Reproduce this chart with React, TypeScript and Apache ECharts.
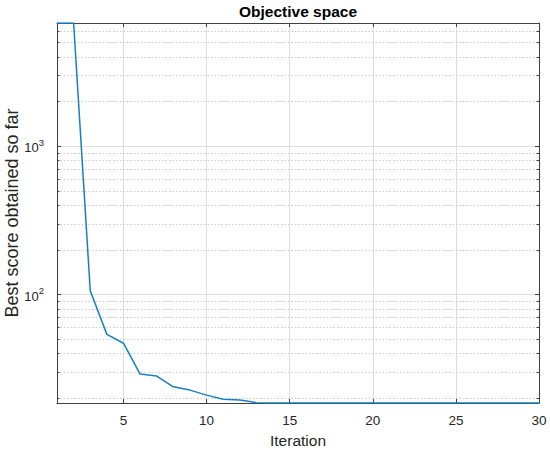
import React, { useEffect, useRef } from "react";
import * as echarts from "echarts";

const iterations = [1, 2, 3, 4, 5, 6, 7, 8, 9, 10, 11, 12, 13, 14, 15, 16, 17, 18, 19, 20, 21, 22, 23, 24, 25, 26, 27, 28, 29, 30];
const bestScores = [6750, 6750, 105.8, 53.7, 46.8, 29.0, 28.1, 23.8, 22.6, 20.9, 19.6, 19.4, 18.6, 18.5, 18.5, 18.5, 18.5, 18.5, 18.5, 18.5, 18.5, 18.5, 18.5, 18.5, 18.5, 18.5, 18.5, 18.5, 18.5, 18.5];
const yMinorGrid = [20, 30, 40, 50, 60, 70, 80, 90, 200, 300, 400, 500, 600, 700, 800, 900, 2000, 3000, 4000, 5000, 6000];
const xTickLabels = [5, 10, 15, 20, 25, 30];
const xRange = [1, 30];
const yRange = [18.5, 6750];

const TEXT = "#262626";
const AXIS = "#404040";
const FONT = "'Liberation Sans', Arial, Helvetica, sans-serif";

const xLabelFormatter = (v: number) =>
  xTickLabels.includes(Math.round(v)) && Math.abs(v - Math.round(v)) < 1e-6 ? String(Math.round(v)) : "";

export default function App() {
  const ref = useRef<HTMLDivElement>(null);
  useEffect(() => {
    if (!ref.current) return;
    const chart = echarts.init(ref.current, undefined, { renderer: "svg" });
    chart.setOption({
      animation: false,
      textStyle: { fontFamily: FONT },
      title: {
        text: "Objective space",
        left: 298,
        textAlign: "center",
        top: 3,
        padding: 0,
        textStyle: { fontFamily: FONT, fontSize: 15.5, fontWeight: "bold", color: "#000" },
      },
      grid: { left: 57, right: 11, top: 23, bottom: 48, containLabel: false, outerBoundsMode: "none", show: false },
      xAxis: [
        {
          type: "value",
          min: xRange[0],
          max: xRange[1],
          name: "Iteration",
          nameLocation: "middle",
          nameGap: 29,
          nameMoveOverlap: false,
          nameTextStyle: { fontFamily: FONT, fontSize: 15.5, color: TEXT },
          axisLine: { show: true, onZero: false, lineStyle: { color: AXIS, width: 1 } },
          axisTick: { show: true, inside: true, length: 4, lineStyle: { color: AXIS } },
          axisLabel: {
            color: TEXT,
            fontSize: 13.5,
            fontFamily: FONT,
            margin: 10,
            showMinLabel: false,
            formatter: xLabelFormatter,
          },
          splitLine: { show: true, lineStyle: { color: "#dedede", width: 1 } },
        },
        {
          type: "value",
          position: "top",
          min: xRange[0],
          max: xRange[1],
          axisLine: { show: true, onZero: false, lineStyle: { color: AXIS, width: 1 } },
          axisTick: { show: true, inside: true, length: 4, lineStyle: { color: AXIS } },
          axisLabel: { show: false },
          splitLine: { show: false },
        },
      ],
      yAxis: [
        {
          type: "log",
          logBase: 10,
          min: yRange[0],
          max: yRange[1],
          name: "Best score obtained so far",
          nameLocation: "middle",
          nameGap: 36,
          nameMoveOverlap: false,
          nameTextStyle: { fontFamily: FONT, fontSize: 18, color: TEXT },
          axisLine: { show: true, lineStyle: { color: AXIS, width: 1 } },
          axisTick: { show: true, inside: true, length: 4, lineStyle: { color: AXIS } },
          axisLabel: {
            color: TEXT,
            margin: 13,
            formatter: (v: number) => {
              const e = Math.log10(v);
              if (Math.abs(e - Math.round(e)) > 1e-6) return "";
              return `{b|10}{s|${Math.round(e)}}`;
            },
            rich: {
              b: { fontSize: 13, fontFamily: FONT, color: TEXT, lineHeight: 17, verticalAlign: "bottom" },
              s: { fontSize: 9.5, fontFamily: FONT, color: TEXT, lineHeight: 17, verticalAlign: "top" },
            },
          },
          splitLine: { show: true, lineStyle: { color: "#dedede", width: 1 } },
        },
        {
          type: "log",
          logBase: 10,
          position: "right",
          min: yRange[0],
          max: yRange[1],
          axisLine: { show: true, lineStyle: { color: AXIS, width: 1 } },
          axisTick: { show: true, inside: true, length: 4, lineStyle: { color: AXIS } },
          axisLabel: { show: false },
          splitLine: { show: false },
        },
      ],
      series: [
        {
          type: "custom",
          silent: true,
          z: 1,
          data: yMinorGrid.map((v) => [xRange[0], v]),
          renderItem: (params: any, api: any) => {
            const pt = api.coord([xRange[0], api.value(1)]);
            const cs = params.coordSys;
            const y = Math.round(pt[1]) + 0.5;
            return {
              type: "group",
              children: [
                {
                  type: "line",
                  shape: { x1: cs.x, y1: y, x2: cs.x + cs.width, y2: y },
                  style: { stroke: "#cccccc", lineWidth: 1, lineDash: [1.5, 2] },
                },
                {
                  type: "line",
                  shape: { x1: cs.x, y1: y, x2: cs.x + 2.5, y2: y },
                  style: { stroke: AXIS, lineWidth: 1 },
                },
                {
                  type: "line",
                  shape: { x1: cs.x + cs.width - 2.5, y1: y, x2: cs.x + cs.width, y2: y },
                  style: { stroke: AXIS, lineWidth: 1 },
                },
              ],
            };
          },
        },
        {
          type: "line",
          data: iterations.map((it, i) => [it, bestScores[i]]),
          showSymbol: false,
          symbol: "none",
          z: 5,
          lineStyle: { color: "#1380c4", width: 1.5 },
          clip: true,
        },
      ],
    });
    return () => chart.dispose();
  }, []);
  return (
    <div
      ref={ref}
      style={{ position: "absolute", left: 0, top: 0, width: 550, height: 451, background: "#fff", overflow: "hidden" }}
    />
  );
}
